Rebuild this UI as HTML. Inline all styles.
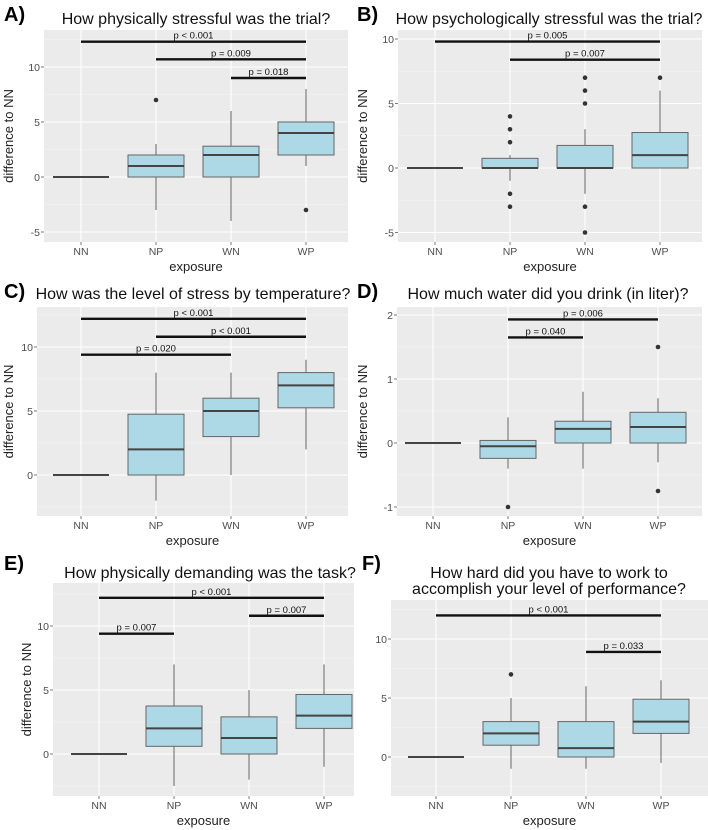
<!DOCTYPE html>
<html><head><meta charset="utf-8">
<style>
html,body{margin:0;padding:0;background:#fff;}
svg{display:block;font-family:"Liberation Sans",sans-serif;}
</style></head>
<body>
<svg id="fig" width="708" height="830" viewBox="0 0 708 830" xmlns="http://www.w3.org/2000/svg"></svg>
<script>
const categories = ["NN","NP","WN","WP"];
// box stats: [lowerWhisker, q1, median, q3, upperWhisker]
const boxesA = [[0,0,0,0,0],[-3,0,1,2,3],[-4,0,2,2.8,6],[1,2,4,5,8]];
const outliersA = [[],[7],[],[-3]];
const bracketsA = [[0,3,12.3,"p < 0.001"],[1,3,10.7,"p = 0.009"],[2,3,9.0,"p = 0.018"]];
const ticksA = [-5,0,5,10];

const boxesB = [[0,0,0,0,0],[-1,0,0,0.75,1],[-2,0,0,1.75,3],[0,0,1,2.75,6]];
const outliersB = [[],[4,3,2,-2,-3],[7,6,5,-3,-5],[7]];
const bracketsB = [[0,3,9.8,"p = 0.005"],[1,3,8.4,"p = 0.007"]];
const ticksB = [-5,0,5,10];

const boxesC = [[0,0,0,0,0],[-2,0,2,4.75,8],[0,3,5,6,8],[2,5.25,7,8,9]];
const outliersC = [[],[],[],[]];
const bracketsC = [[0,3,12.2,"p < 0.001"],[1,3,10.8,"p < 0.001"],[0,2,9.4,"p = 0.020"]];
const ticksC = [0,5,10];

const boxesD = [[0,0,0,0,0],[-0.4,-0.24,-0.05,0.04,0.4],[-0.4,0,0.22,0.34,0.8],[-0.3,0,0.25,0.48,0.7]];
const outliersD = [[],[-1],[],[1.5,-0.75]];
const bracketsD = [[1,3,1.93,"p = 0.006"],[1,2,1.65,"p = 0.040"]];
const ticksD = [-1,0,1,2];

const boxesE = [[0,0,0,0,0],[-2.5,0.6,2,3.75,7],[-2,0,1.25,2.9,5],[-1,2,3,4.65,7]];
const outliersE = [[],[],[],[]];
const bracketsE = [[0,3,12.2,"p < 0.001"],[2,3,10.8,"p = 0.007"],[0,1,9.4,"p = 0.007"]];
const ticksE = [0,5,10];

const boxesF = [[0,0,0,0,0],[-1,1,2,3,5],[-1,0,0.75,3,6],[-0.5,2,3,4.9,6.5]];
const outliersF = [[],[7],[],[]];
const bracketsF = [[0,3,12.0,"p < 0.001"],[2,3,8.9,"p = 0.033"]];
const ticksF = [0,5,10];

const NS="http://www.w3.org/2000/svg";
const svg=document.getElementById("fig");
function mk(tag,attrs,parent,text){
  const e=document.createElementNS(NS,tag);
  for(const k in attrs) e.setAttribute(k,attrs[k]);
  if(text!==undefined) e.textContent=text;
  (parent||svg).appendChild(e); return e;
}
function panel(p){
  const g=mk("g",{});
  
  
  const y=v=>p.y0-(v*p.ppu);
  const x=i=>p.cx0+i*75;
  const bg=mk("rect",{x:p.L,y:p.T,width:p.R-p.L,height:p.B-p.T,fill:"#ebebeb"},g);
  
  
  for(let i=0;i<p.ticks.length+1;i++){
    const step=p.ticks[1]-p.ticks[0];
    const v=p.ticks[0]-step/2+i*step;
    const yy=y(v);
    if(yy>p.T&&yy<p.B) mk("line",{x1:p.L,x2:p.R,y1:yy,y2:yy,stroke:"#f5f5f5","stroke-width":0.6},g);
  }
  p.ticks.forEach(t=>{
    const yy=y(t);
    mk("line",{x1:p.L,x2:p.R,y1:yy,y2:yy,stroke:"#fff","stroke-width":1.1},g);
    mk("line",{x1:p.L-3,x2:p.L,y1:yy,y2:yy,stroke:"#555","stroke-width":0.8},g);
    const tl=mk("text",{x:p.L-4,y:yy+3.8,"text-anchor":"end","font-size":10.5,fill:"#4d4d4d"},g,String(t));
    
    
  });
  categories.forEach((c,i)=>{
    mk("line",{x1:x(i),x2:x(i),y1:p.T,y2:p.B,stroke:"#fff","stroke-width":1.1},g);
    mk("line",{x1:x(i),x2:x(i),y1:p.B,y2:p.B+3,stroke:"#555","stroke-width":0.8},g);
    const tl=mk("text",{x:x(i),y:p.B+13,"text-anchor":"middle","font-size":10.5,fill:"#4d4d4d"},g,c);
    
    
  });
  p.boxes.forEach((b,i)=>{
    const cx=x(i), hw=28;
    const bx=mk("g",{},g);
    
    
    mk("line",{x1:cx,x2:cx,y1:y(b[0]),y2:y(b[1]),stroke:"#666","stroke-width":1},bx);
    mk("line",{x1:cx,x2:cx,y1:y(b[3]),y2:y(b[4]),stroke:"#666","stroke-width":1},bx);
    mk("rect",{x:cx-hw,y:y(b[3]),width:2*hw,height:Math.max(0,y(b[1])-y(b[3])),fill:"#add8e6",stroke:"#666","stroke-width":1},bx);
    mk("line",{x1:cx-hw,x2:cx+hw,y1:y(b[2]),y2:y(b[2]),stroke:"#444","stroke-width":2},bx);
    p.outliers[i].forEach(o=>{
      const d=mk("circle",{cx:cx,cy:y(o),r:2.3,fill:"#333"},bx);
      
      
    });
  });
  p.brackets.forEach(br=>{
    const yy=y(br[2]);
    const l=mk("line",{x1:x(br[0]),x2:x(br[1]),y1:yy,y2:yy,stroke:"#111","stroke-width":2.4},g);
    
    
    const t=mk("text",{x:(x(br[0])+x(br[1]))/2,y:yy-3,"text-anchor":"middle","font-size":9.5,fill:"#111"},g,br[3]);
    
    
  });
  const xt=mk("text",{x:(p.L+p.R)/2,y:p.B+29,"text-anchor":"middle","font-size":13,fill:"#222"},g,"exposure");
  
  
  if(p.ylab){
    const yt=mk("text",{x:0,y:0,"text-anchor":"middle","font-size":13,fill:"#222",transform:"translate("+p.ylabX+","+((p.T+p.B)/2)+") rotate(-90)"},g,"difference to NN");
    
    
  }
  p.title.forEach((s,k)=>{
    const tt=mk("text",{x:p.tx,y:p.ty+k*16,"text-anchor":"middle","font-size":16,fill:"#111"},g,s);
    
    
  });
  const lt=mk("text",{x:p.lx,y:p.ly,"font-size":20,"font-weight":"bold",fill:"#000"},g,p.id+")");
  
  
}
panel({id:"A",L:44,R:348,T:30,B:242,y0:177,ppu:11,cx0:81,boxes:boxesA,outliers:outliersA,brackets:bracketsA,ticks:ticksA,ylab:true,ylabX:13,title:["How physically stressful was the trial?"],tx:196,ty:24,lx:4,ly:21});
panel({id:"B",L:398,R:702,T:30,B:242,y0:168,ppu:12.9,cx0:435,boxes:boxesB,outliers:outliersB,brackets:bracketsB,ticks:ticksB,ylab:true,ylabX:367,title:["How psychologically stressful was the trial?"],tx:549,ty:24,lx:357,ly:21});
panel({id:"C",L:37,R:348,T:307,B:516,y0:475,ppu:12.8,cx0:81,boxes:boxesC,outliers:outliersC,brackets:bracketsC,ticks:ticksC,ylab:true,ylabX:13,title:["How was the level of stress by temperature?"],tx:193,ty:299,lx:4,ly:298});
panel({id:"D",L:397,R:702,T:307,B:516,y0:443,ppu:64,cx0:433,boxes:boxesD,outliers:outliersD,brackets:bracketsD,ticks:ticksD,ylab:true,ylabX:367,title:["How much water did you drink (in liter)?"],tx:548,ty:299,lx:357,ly:298});
panel({id:"E",L:53,R:354,T:583,B:796,y0:754,ppu:12.8,cx0:99,boxes:boxesE,outliers:outliersE,brackets:bracketsE,ticks:ticksE,ylab:true,ylabX:31,title:["How physically demanding was the task?"],tx:210,ty:578,lx:4,ly:570});
panel({id:"F",L:391,R:708,T:600,B:796,y0:757,ppu:11.8,cx0:436,boxes:boxesF,outliers:outliersF,brackets:bracketsF,ticks:ticksF,ylab:false,title:["How hard did you have to work to","accomplish your level of performance?"],tx:549,ty:578,lx:362,ly:570});
</script>
</body></html>
